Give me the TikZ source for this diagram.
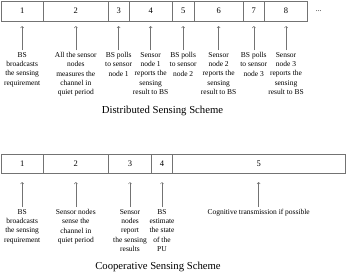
\documentclass[tikz,border=0pt]{standalone}
\usepackage{fontspec}
\setmainfont{Liberation Serif}
\usetikzlibrary{arrows.meta,positioning}

\begin{document}
\begin{tikzpicture}[
  slot/.style={draw=black!55, line width=0.6pt, minimum height=20pt, inner sep=0pt, outer sep=0pt, font=\fontsize{8.5}{10}\selectfont},
  note/.style={align=center, inner sep=0pt, font=\fontsize{7.5}{9.3}\selectfont},
  title/.style={font=\fontsize{10.7}{12}\selectfont},
  arrow/.style={-{Straight Barb[length=1.6pt,width=3.2pt]}, draw=black!55, line width=0.5pt}
]
\useasboundingbox (0,0) rectangle (346pt,-276pt);
\node[slot, minimum width=42.3pt, anchor=north west] (d1) at (1pt,-1pt) {1};
\node[slot, minimum width=65pt, right=0pt of d1] (d2) {2};
\node[slot, minimum width=20.7pt, right=0pt of d2] (d3) {3};
\node[slot, minimum width=43.3pt, right=0pt of d3] (d4) {4};
\node[slot, minimum width=21.7pt, right=0pt of d4] (d5) {5};
\node[slot, minimum width=49.3pt, right=0pt of d5] (d6) {6};
\node[slot, minimum width=21pt, right=0pt of d6] (d7) {7};
\node[slot, minimum width=43.4pt, right=0pt of d7] (d8) {8};
\node[note, right=8pt of d8] (more) {...};
\node[note, below=31pt of d1] (dn1) {BS\\broadcasts\\the sensing\\requirement};
\node[note, below=31pt of d2] (dn2) {All the sensor\\nodes\\measures the\\channel in\\quiet period};
\node[note, below=31pt of d3] (dn3) {BS polls\\to sensor\\node 1};
\node[note, below=31pt of d4] (dn4) {Sensor\\node 1\\reports the\\sensing\\result to BS};
\node[note, below=31pt of d5] (dn5) {BS polls\\to sensor\\node 2};
\node[note, below=31pt of d6] (dn6) {Sensor\\node 2\\reports the\\sensing\\result to BS};
\node[note, below=31pt of d7] (dn7) {BS polls\\to sensor\\node 3};
\node[note, below=31pt of d8] (dn8) {Sensor\\node 3\\reports the\\sensing\\result to BS};
\foreach \i in {1,...,8}
  \draw[arrow, shorten >=5pt, shorten <=2pt] (dn\i.north) -- (d\i.south);
\node[title] (dtitle) at (162.5pt,-111pt) {Distributed Sensing Scheme};
\node[slot, minimum width=42.3pt, minimum height=19pt, anchor=north west] (c1) at (1pt,-154pt) {1};
\node[slot, minimum width=65pt, minimum height=19pt, right=0pt of c1] (c2) {2};
\node[slot, minimum width=43.4pt, minimum height=19pt, right=0pt of c2] (c3) {3};
\node[slot, minimum width=20.6pt, minimum height=19pt, right=0pt of c3] (c4) {4};
\node[slot, minimum width=172.7pt, minimum height=19pt, right=0pt of c4] (c5) {5};
\node[note, below=36pt of c1] (cn1) {BS\\broadcasts\\the sensing\\requirement};
\node[note, below=36pt of c2] (cn2) {Sensor nodes\\sense the\\channel in\\quiet period};
\node[note, below=36pt of c3] (cn3) {Sensor\\nodes\\report\\the sensing\\results};
\node[note, below=36pt of c4] (cn4) {BS\\estimate\\the state\\of the\\PU};
\node[note, below=36pt of c5] (cn5) {Cognitive transmission if possible};
\foreach \i in {1,...,5}
  \draw[arrow, shorten >=9pt, shorten <=2pt] (cn\i.north) -- (c\i.south);
\node[title] (ctitle) at (158pt,-266.7pt) {Cooperative Sensing Scheme};
\end{tikzpicture}
\end{document}
